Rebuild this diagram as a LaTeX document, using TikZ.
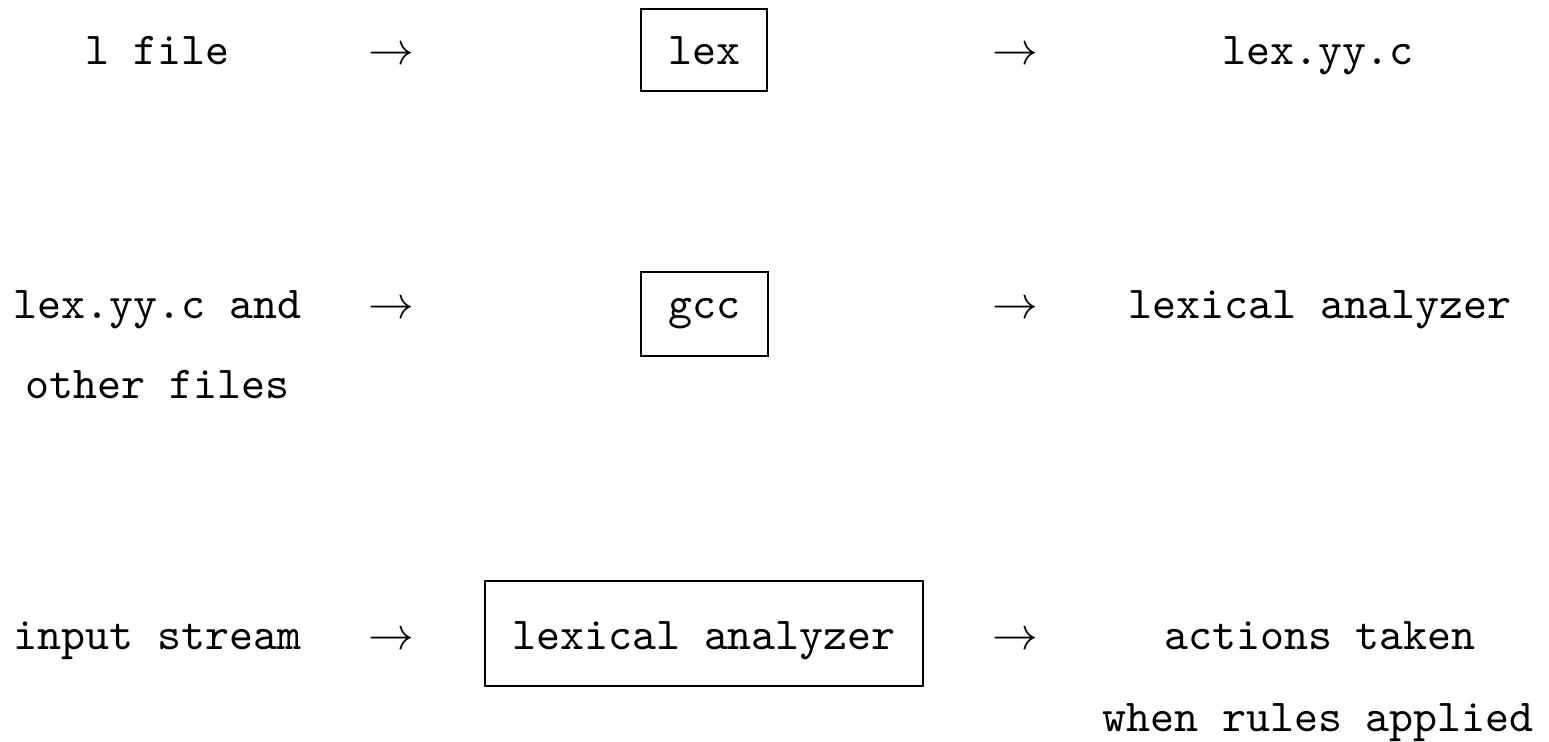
\documentclass[tikz,border=0pt]{standalone}
\begin{document}
\begin{tikzpicture}[x=0.2188pt,y=-0.2188pt,
  txt/.style={font=\ttfamily, inner sep=0pt, anchor=base},
  arr/.style={inner sep=0pt, anchor=base},
  prog/.style={draw, line width=0.45pt, font=\ttfamily, inner sep=0pt, anchor=base}]
\useasboundingbox (0,0) rectangle (1549,742);
% row 1
\node[txt] (lfile) at (157.5,64) {l file};
\node[arr] (a11) at (391.5,64) {$\rightarrow$};
\node[prog, minimum width=27.75pt, text height=12pt, text depth=6pt] (lex) at (704,64) {lex};
\node[arr] (a12) at (1015.5,64) {$\rightarrow$};
\node[txt] (lexyyc) at (1318,64) {lex.yy.c};
% row 2
\node[txt] (src1) at (157.5,318) {lex.yy.c and};
\node[txt] (src2) at (157.5,398) {other files};
\node[arr] (a21) at (391.5,318) {$\rightarrow$};
\node[prog, minimum width=27.75pt, text height=10.1pt, text depth=8.25pt] (gcc) at (704.5,318) {gcc};
\node[arr] (a22) at (1015.5,318) {$\rightarrow$};
\node[txt] (lexan) at (1320,318) {lexical analyzer};
% row 3
\node[txt] (input) at (157.5,649) {input stream};
\node[arr] (a31) at (391.5,649) {$\rightarrow$};
\node[prog, minimum width=96pt, text height=14.8pt, text depth=8.1pt] (lexan2) at (704,649) {lexical analyzer};
\node[arr] (a32) at (1015.5,649) {$\rightarrow$};
\node[txt] (act1) at (1320,649) {actions taken};
\node[txt] (act2) at (1318,731) {when rules applied};
\end{tikzpicture}
\end{document}
